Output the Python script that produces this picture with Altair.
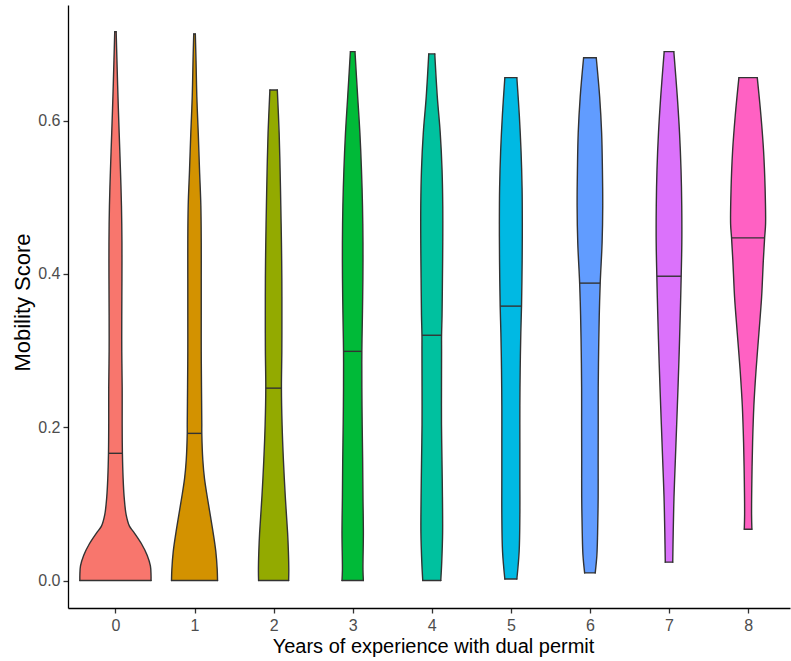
import altair as alt
import numpy as np
import pandas as pd

# Years of experience with a dual permit (one violin per year)
YEARS = [0, 1, 2, 3, 4, 5, 6, 7, 8]
FILLS = ["#F8766D", "#D39200", "#93AA00", "#00BA38", "#00C19F",
         "#00B9E3", "#619CFF", "#DB72FB", "#FF61C3"]
MEDIANS = [0.166, 0.192, 0.251, 0.299, 0.320, 0.358, 0.388, 0.397, 0.447]

# Violin outlines: mobility score (low to high) and density half-width in x units
V0_SCORE = [0.000, 0.007, 0.019, 0.033, 0.048, 0.062, 0.071, 0.086, 0.109, 0.133, 0.166, 0.204,
            0.252, 0.299, 0.346, 0.394, 0.441, 0.489, 0.536, 0.584, 0.631, 0.678, 0.716]
V0_HALF = [0.450, 0.450, 0.442, 0.401, 0.329, 0.240, 0.177, 0.135, 0.110, 0.097, 0.088, 0.085,
           0.085, 0.080, 0.080, 0.082, 0.082, 0.076, 0.063, 0.047, 0.032, 0.019, 0.009]

V1_SCORE = [0.000, 0.014, 0.038, 0.062, 0.086, 0.109, 0.133, 0.157, 0.192, 0.204, 0.252,
            0.299, 0.346, 0.394, 0.441, 0.489, 0.536, 0.584, 0.631, 0.678, 0.713]
V1_HALF = [0.291, 0.287, 0.269, 0.236, 0.198, 0.161, 0.126, 0.105, 0.092, 0.092, 0.088,
           0.085, 0.085, 0.085, 0.085, 0.080, 0.063, 0.047, 0.029, 0.019, 0.010]

V2_SCORE = [0.000, 0.014, 0.038, 0.062, 0.109, 0.157, 0.204, 0.251, 0.299, 0.346, 0.394,
            0.441, 0.489, 0.536, 0.584, 0.640]
V2_HALF = [0.190, 0.192, 0.187, 0.177, 0.148, 0.124, 0.107, 0.099, 0.104, 0.105, 0.104,
           0.099, 0.091, 0.082, 0.070, 0.047]

V3_SCORE = [0.000, 0.014, 0.062, 0.109, 0.157, 0.204, 0.252, 0.299, 0.346, 0.394, 0.441,
            0.489, 0.536, 0.584, 0.631, 0.690]
V3_HALF = [0.135, 0.130, 0.135, 0.130, 0.126, 0.120, 0.116, 0.116, 0.123, 0.129, 0.130,
           0.124, 0.111, 0.091, 0.063, 0.029]

V4_SCORE = [0.000, 0.024, 0.062, 0.109, 0.157, 0.204, 0.252, 0.299, 0.320, 0.346, 0.394,
            0.441, 0.489, 0.536, 0.584, 0.631, 0.687]
V4_HALF = [0.114, 0.126, 0.137, 0.135, 0.129, 0.123, 0.123, 0.124, 0.124, 0.130, 0.135,
           0.139, 0.139, 0.130, 0.107, 0.070, 0.038]

V5_SCORE = [0.002, 0.038, 0.086, 0.133, 0.180, 0.228, 0.275, 0.323, 0.358, 0.418, 0.465,
            0.512, 0.560, 0.607, 0.656]
V5_HALF = [0.076, 0.105, 0.114, 0.114, 0.114, 0.114, 0.118, 0.126, 0.135, 0.143, 0.145,
           0.142, 0.129, 0.107, 0.076]

V6_SCORE = [0.010, 0.033, 0.062, 0.109, 0.157, 0.204, 0.252, 0.299, 0.346, 0.388, 0.441,
            0.489, 0.536, 0.584, 0.631, 0.682]
V6_HALF = [0.067, 0.088, 0.097, 0.104, 0.104, 0.105, 0.105, 0.110, 0.118, 0.130, 0.154,
           0.162, 0.158, 0.148, 0.123, 0.080]

V7_SCORE = [0.024, 0.062, 0.109, 0.157, 0.204, 0.252, 0.299, 0.346, 0.397, 0.441, 0.489,
            0.536, 0.584, 0.631, 0.690]
V7_HALF = [0.047, 0.053, 0.063, 0.080, 0.097, 0.114, 0.129, 0.142, 0.154, 0.162, 0.161,
           0.152, 0.133, 0.105, 0.061]

V8_SCORE = [0.067, 0.086, 0.133, 0.180, 0.228, 0.275, 0.323, 0.370, 0.418, 0.447, 0.465,
            0.512, 0.560, 0.607, 0.656]
V8_HALF = [0.048, 0.044, 0.048, 0.057, 0.073, 0.101, 0.137, 0.171, 0.193, 0.209, 0.221,
           0.215, 0.196, 0.162, 0.116]

PROFILES = [(V0_SCORE, V0_HALF), (V1_SCORE, V1_HALF), (V2_SCORE, V2_HALF),
            (V3_SCORE, V3_HALF), (V4_SCORE, V4_HALF), (V5_SCORE, V5_HALF),
            (V6_SCORE, V6_HALF), (V7_SCORE, V7_HALF), (V8_SCORE, V8_HALF)]

# Long table of violin outlines, centred on each year
rows = []
for yr, (scores, halves) in zip(YEARS, PROFILES):
    for s, h in zip(scores, halves):
        rows.append({"year": str(yr), "score": s, "lo": yr - h, "hi": yr + h})
violins = pd.DataFrame(rows)

# Flat ends of each violin (lowest and highest observed score)
ends = pd.concat([
    violins.loc[violins.groupby("year")["score"].idxmin()],
    violins.loc[violins.groupby("year")["score"].idxmax()],
])

# Median lines span the violin at the median height
med_rows = []
for yr, med, (scores, halves) in zip(YEARS, MEDIANS, PROFILES):
    h = float(np.interp(med, scores, halves))
    med_rows.append({"year": str(yr), "score": med, "lo": yr - h, "hi": yr + h})
medians = pd.DataFrame(med_rows)

FONT = "Liberation Sans"
OUTLINE = "#333333"
LW = 1.4
CURVE = "catmull-rom"

x_scale = alt.Scale(domain=[-0.6, 8.53], nice=False, zero=False)
y_scale = alt.Scale(domain=[-0.0358, 0.7508], nice=False, zero=False)

x_axis = alt.Axis(
    values=YEARS, format="d", title="Years of experience with dual permit",
    grid=False, domainColor="black", domainWidth=1.3,
    tickColor=OUTLINE, tickWidth=1.3, tickSize=5,
    labelColor="#4D4D4D", labelFontSize=16, labelPadding=4, labelFont=FONT,
    titleFont=FONT, titleFontSize=20, titleFontWeight="normal", titleColor="black",
    titleX=365, titleY=44, titleBaseline="alphabetic", titleAlign="center",
)
y_axis = alt.Axis(
    values=[0.0, 0.2, 0.4, 0.6], format=".1f", title="Mobility Score",
    grid=False, domainColor="black", domainWidth=1.3,
    tickColor=OUTLINE, tickWidth=1.3, tickSize=5,
    labelColor="#4D4D4D", labelFontSize=16, labelPadding=3, labelFont=FONT,
    titleFont=FONT, titleFontSize=22, titleFontWeight="normal", titleColor="black",
    titleX=-39, titleY=297, titleAngle=270, titleAlign="center", titleBaseline="alphabetic",
)

color = alt.Color("year:N", scale=alt.Scale(domain=[str(y) for y in YEARS], range=FILLS),
                  legend=None)

base = alt.Chart(violins)

fill = base.mark_area(orient="horizontal", interpolate=CURVE, opacity=1).encode(
    y=alt.Y("score:Q", scale=y_scale, axis=y_axis),
    x=alt.X("lo:Q", scale=x_scale, axis=x_axis, stack=None),
    x2="hi:Q",
    color=color,
    detail="year:N",
)

left_edge = base.mark_line(interpolate=CURVE, color=OUTLINE, strokeWidth=LW,
                           strokeCap="round", strokeJoin="round").encode(
    y=alt.Y("score:Q", scale=y_scale),
    x=alt.X("lo:Q", scale=x_scale),
    order="score:Q",
    detail="year:N",
)

right_edge = base.mark_line(interpolate=CURVE, color=OUTLINE, strokeWidth=LW,
                            strokeCap="round", strokeJoin="round").encode(
    y=alt.Y("score:Q", scale=y_scale),
    x=alt.X("hi:Q", scale=x_scale),
    order="score:Q",
    detail="year:N",
)

caps = alt.Chart(ends).mark_rule(color=OUTLINE, strokeWidth=LW, strokeCap="round").encode(
    y=alt.Y("score:Q", scale=y_scale),
    x=alt.X("lo:Q", scale=x_scale),
    x2="hi:Q",
)

median_lines = alt.Chart(medians).mark_rule(color=OUTLINE, strokeWidth=LW).encode(
    y=alt.Y("score:Q", scale=y_scale),
    x=alt.X("lo:Q", scale=x_scale),
    x2="hi:Q",
)

chart = alt.layer(fill, median_lines, left_edge, right_edge, caps).properties(
    width=722, height=603,
    autosize=alt.AutoSizeParams(type="none"),
    padding={"left": 68, "top": 5, "right": 1, "bottom": 53},
    background="white",
).configure_view(stroke=None)

chart.save("out.html", embed_options={"renderer": "svg", "actions": False})
